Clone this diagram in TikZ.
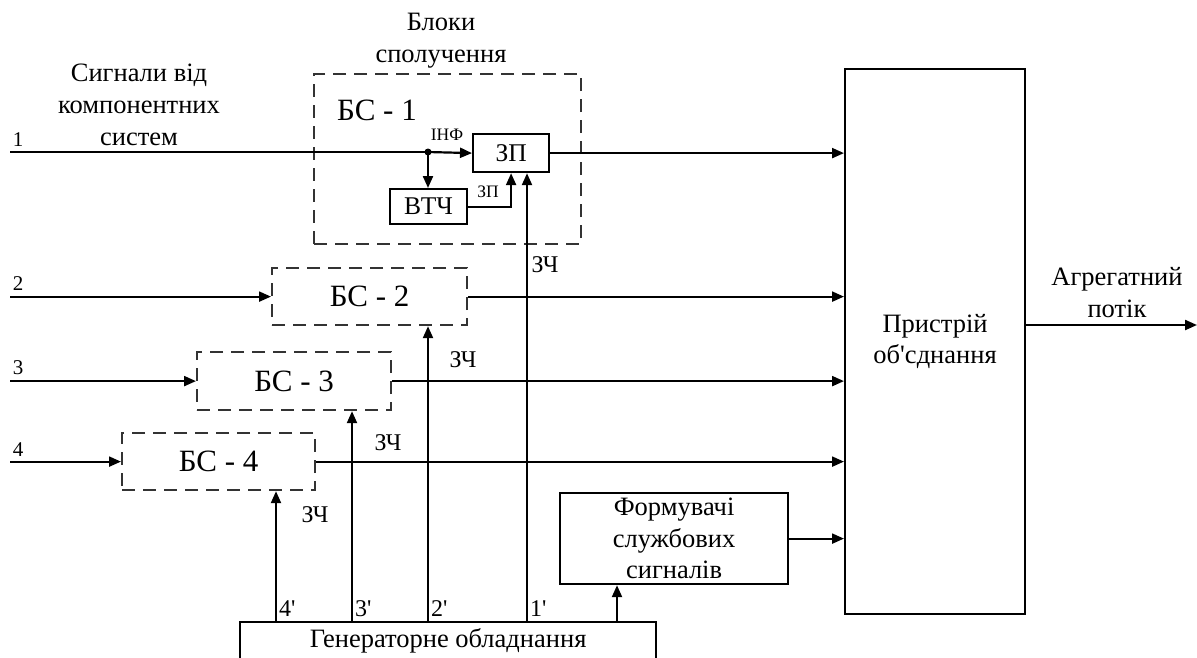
\documentclass[tikz,border=0pt]{standalone}
\usepackage{fontspec}
\setmainfont{Liberation Serif}
\usetikzlibrary{arrows.meta, positioning, calc}

\begin{document}
\begin{tikzpicture}[
    x=1pt, y=-1pt,
    line width=2.2pt,
    box/.style={draw, line width=2.2pt, inner sep=0pt, anchor=north west, align=center, font=\fontsize{26.5}{31.5}\selectfont},
    bsbox/.style={box, draw=black!80, dash pattern=on 13pt off 8pt, font=\fontsize{31}{35}\selectfont},
    lbl/.style={inner sep=0pt, align=center, font=\fontsize{26.5}{32}\selectfont},
    small/.style={inner sep=0pt, font=\fontsize{24}{28}\selectfont},
    num/.style={inner sep=0pt, font=\fontsize{21}{24}\selectfont},
    tiny/.style={inner sep=0pt, font=\fontsize{17.5}{20}\selectfont},
    arr/.style={-{Triangle[length=12pt, width=10pt]}, line width=2.2pt},
]
\useasboundingbox (0,0) rectangle (1197,657);
\clip (0,0) rectangle (1197,657);

\node[box, minimum width=180, minimum height=545] (ob) at (844,68) {Пристрій\\об\textquotesingle{}сднання};

\node[bsbox, minimum width=267, minimum height=170] (bs1) at (313,73) {};
\node[box, minimum width=76, minimum height=38, font=\fontsize{25.5}{28}\selectfont] (zp) at (472,133) {ЗП};
\node[box, minimum width=77, minimum height=35, font=\fontsize{25.5}{28}\selectfont] (vtc) at (389,188) {ВТЧ};
\node[bsbox, minimum width=195, minimum height=57] (bs2) at (271,267) {БС - 2};
\node[bsbox, minimum width=194, minimum height=58] (bs3) at (196,351) {БС - 3};
\node[bsbox, minimum width=193, minimum height=57] (bs4) at (121,432) {БС - 4};
\node[box, minimum width=228, minimum height=91] (fs) at (559,492) {Формувачі\\службових\\сигналів};
\node[box, minimum width=416, minimum height=38] (gen) at (239,621) {Генераторне обладнання};

\node[lbl] (blk) at (441,41) {Блоки\\сполучення};
\node[lbl] (sig) at (139,105) {Сигнали від\\компонентних\\систем};
\node[lbl] (agr) at (1117,293) {Агрегатний\\потік};
\node[inner sep=0pt, font=\fontsize{31}{35}\selectfont] (bs1t) at (377,110) {БС - 1};
\node[tiny] (inf) at (447,135) {ІНФ};
\node[tiny] (zpt) at (488,192) {ЗП};

\node[circle, fill, inner sep=0pt, minimum size=7pt] (dot) at (428,152) {};
\coordinate (in) at (10,0);
\coordinate (out) at (1197,325);

\foreach \i/\y in {1/140, 2/284, 3/368, 4/450}
    \node[num] (n\i) at (18,\y) {\i};

\draw (in |- dot) -- (dot.center);
\draw[arr] (dot.center) -- (zp.west);
\draw[arr] (dot.center) -- (dot.center |- vtc.north);
\draw[arr] (vtc.east) -| (zp.south);

\foreach \b in {bs2, bs3, bs4} {
    \draw[arr] (in |- \b.west) -- (\b.west);
}
\foreach \b in {zp, bs2, bs3, bs4, fs} {
    \draw[arr] (\b.east) -- (\b.east -| ob.west);
}

\foreach \i/\x/\tgt in {1/527/zp, 2/428/bs2, 3/352/bs3, 4/276/bs4} {
    \coordinate (g\i) at (\x,0 |- gen.north);
    \draw[arr] (g\i) -- (g\i |- \tgt.south);
    \node[small, anchor=south west] (p\i) at ([xshift=2pt, yshift=3pt]g\i) {\i\textquotesingle};
}
\foreach \x/\y [count=\k] in {545/265, 463/360, 388/443, 315/515}
    \node[small] (zc\k) at (\x,\y) {ЗЧ};

\coordinate (gf) at (617,0 |- gen.north);
\draw[arr] (gf) -- (gf |- fs.south);
\draw[arr] (out -| ob.east) -- (out);

\end{tikzpicture}
\end{document}
